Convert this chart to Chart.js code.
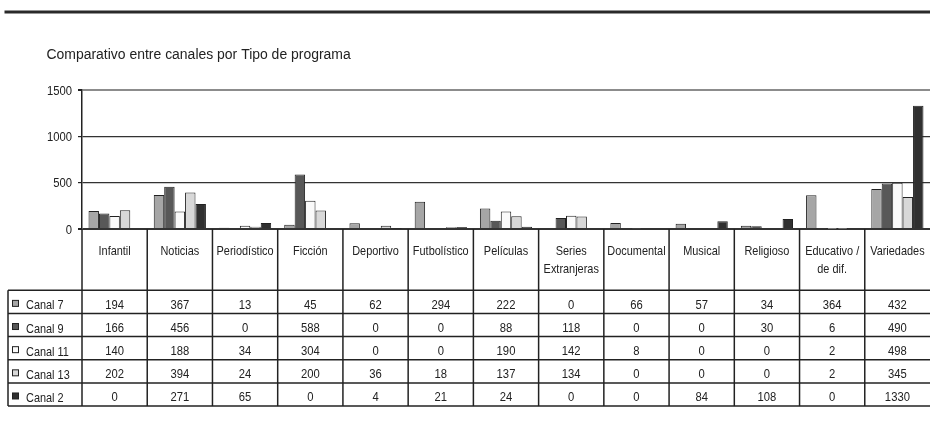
<!DOCTYPE html>
<html>
<head>
<meta charset="utf-8">
<script src="https://cdn.jsdelivr.net/npm/chart.js@4.4.1/dist/chart.umd.min.js"></script>
<style>
  html, body { margin: 0; padding: 0; background: #fff; }
  canvas { display: block; }
</style>
</head>
<body>
<canvas id="chart" width="930" height="434"></canvas>
<script>
const categories = ['Infantil', 'Noticias', 'Periodístico', 'Ficción', 'Deportivo', 'Futbolístico', 'Películas',
  ['Series', 'Extranjeras'], 'Documental', 'Musical', 'Religioso', ['Educativo /', 'de dif.'], 'Variedades'];
const seriesNames = ['Canal 7', 'Canal 9', 'Canal 11', 'Canal 13', 'Canal 2'];
const canal7 = [194, 367, 13, 45, 62, 294, 222, 0, 66, 57, 34, 364, 432];
const canal9 = [166, 456, 0, 588, 0, 0, 88, 118, 0, 0, 30, 6, 490];
const canal11 = [140, 188, 34, 304, 0, 0, 190, 142, 8, 0, 0, 2, 498];
const canal13 = [202, 394, 24, 200, 36, 18, 137, 134, 0, 0, 0, 2, 345];
const canal2 = [0, 271, 65, 0, 4, 21, 24, 0, 0, 84, 108, 0, 1330];
const yTicks = [0, 500, 1000, 1500];
const title = 'Comparativo entre canales por Tipo de programa';

const seriesValues = [canal7, canal9, canal11, canal13, canal2];
const fills = ['#a6a6a6', '#585858', '#fafafa', '#d8d8d8', '#303030'];
const ink = '#222';
const family = "'Liberation Sans', Arial, sans-serif";

// Arial squeezed horizontally, close to a condensed Helvetica
function narrowText(ctx, text, x, y, align, size, sx) {
  ctx.save();
  ctx.font = size + 'px ' + family;
  ctx.textAlign = align;
  ctx.textBaseline = 'alphabetic';
  ctx.fillStyle = ink;
  ctx.translate(x, y);
  ctx.scale(sx, 1);
  ctx.fillText(text, 0, 0);
  ctx.restore();
}

// title, top rule, y labels and the data table under the plot
const tableLayer = {
  id: 'tableLayer',
  afterDraw(chart) {
    const { ctx, chartArea: area, scales: { y } } = chart;
    const n = categories.length;
    const catW = (area.right - area.left) / n;
    const tableLeft = 8;
    const rowTop = 290.3;
    const rowH = 23.15;
    const bottom = rowTop + rowH * seriesNames.length;
    const right = area.right;

    const line = (x1, y1, x2, y2) => {
      ctx.beginPath();
      ctx.moveTo(x1, y1);
      ctx.lineTo(x2, y2);
      ctx.stroke();
    };

    ctx.save();
    // top rule
    ctx.strokeStyle = '#2a2a2a';
    ctx.lineWidth = 3;
    line(4.5, 12, 930, 12);

    narrowText(ctx, title, 46.5, 59.3, 'left', 15.5, 0.9);

    // y tick labels
    yTicks.forEach(v => narrowText(ctx, String(v), 72, y.getPixelForValue(v) + 4.6, 'right', 12.5, 0.9));

    // grid of the table
    ctx.strokeStyle = ink;
    ctx.lineWidth = 1.5;
    for (let i = 0; i < n; i++) {
      const xx = area.left + i * catW;
      line(xx, area.bottom, xx, bottom);
    }
    line(tableLeft, rowTop, tableLeft, bottom);
    for (let r = 0; r <= seriesNames.length; r++) {
      const yy = rowTop + r * rowH;
      line(tableLeft, yy, right, yy);
    }

    // category headers
    categories.forEach((c, i) => {
      const cx = area.left + (i + 0.5) * catW;
      const lines = Array.isArray(c) ? c : [c];
      lines.forEach((t, k) => narrowText(ctx, t, cx, 254.5 + k * 18, 'center', 13, 0.84));
    });

    // series rows
    seriesNames.forEach((name, r) => {
      const mid = rowTop + (r + 0.5) * rowH;
      ctx.fillStyle = fills[r];
      ctx.fillRect(12.5, mid - 1.5, 6, 6);
      ctx.lineWidth = 1;
      ctx.strokeStyle = ink;
      ctx.strokeRect(12.5, mid - 1.5, 6, 6);
      narrowText(ctx, name, 26, mid + 7.5, 'left', 13, 0.84);
      seriesValues[r].forEach((v, i) => {
        narrowText(ctx, String(v), area.left + (i + 0.5) * catW, mid + 7, 'center', 12.5, 0.9);
      });
    });
    ctx.restore();
  }
};

new Chart(document.getElementById('chart'), {
  type: 'bar',
  data: {
    labels: categories,
    datasets: seriesNames.map((name, i) => ({
      label: name,
      data: seriesValues[i],
      backgroundColor: fills[i],
      borderColor: ink,
      borderWidth: 1,
      categoryPercentage: 0.8,
      barPercentage: 1.0
    }))
  },
  options: {
    responsive: false,
    animation: false,
    layout: { padding: { top: 90, bottom: 205, left: 0, right: 0 } },
    plugins: {
      legend: { display: false },
      title: { display: false },
      tooltip: { enabled: false }
    },
    scales: {
      x: { display: false },
      y: {
        min: 0,
        max: 1500,
        afterBuildTicks: (s) => { s.ticks = yTicks.map(v => ({ value: v })); },
        afterFit: (s) => { s.width = 82; },
        border: { color: ink, width: 1.5 },
        grid: {
          color: (c) => (c.tick && c.tick.value === 1500 ? '#8c8c8c' : '#333'),
          lineWidth: (c) => (c.tick && (c.tick.value === 1500 || c.tick.value === 0) ? 2 : 1.2),
          tickColor: ink,
          tickLength: 4
        },
        ticks: { color: 'rgba(0,0,0,0)', padding: 6 }
      }
    }
  },
  plugins: [tableLayer]
});
</script>
</body>
</html>
